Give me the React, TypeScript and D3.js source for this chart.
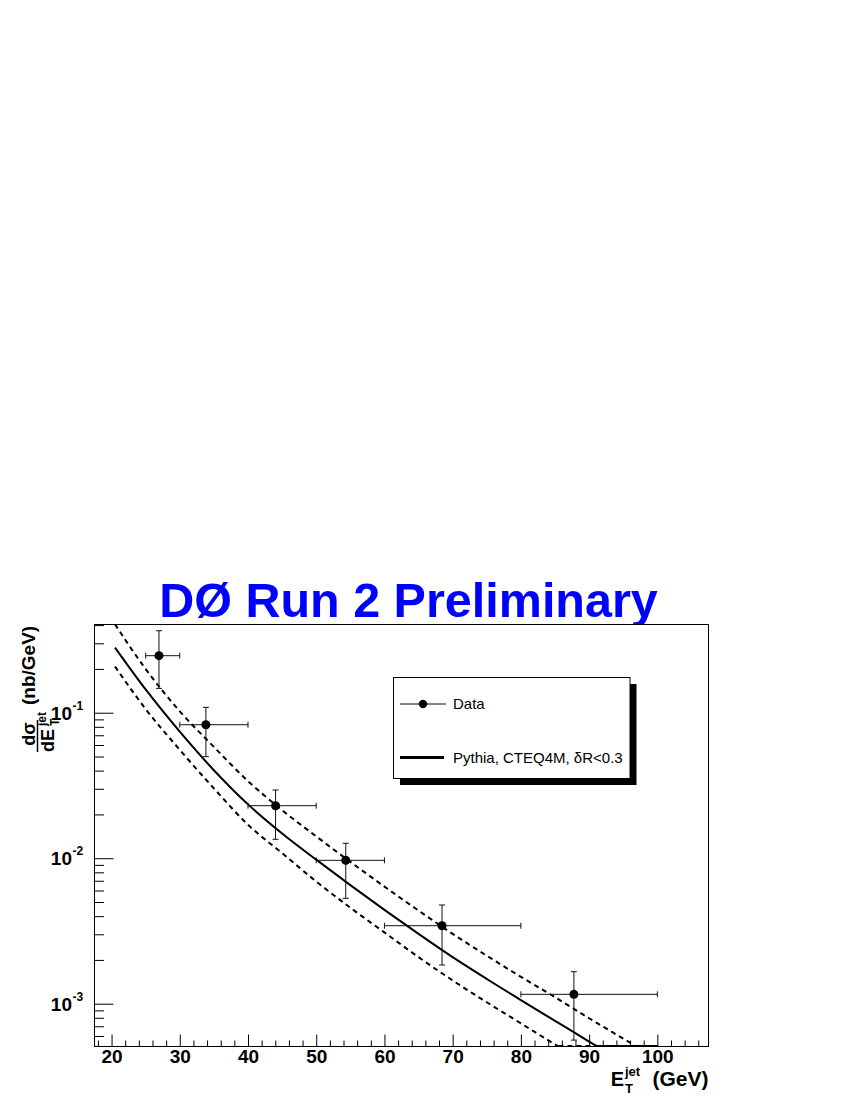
import React, { useEffect, useRef } from "react";
import * as d3 from "d3";

// measured points (E_T in GeV, dsigma/dE_T in nb/GeV)
const ptEt = [26.95, 33.83, 44.04, 54.33, 68.44, 87.77];
const ptBinLo = [25, 30, 40, 50, 60, 80];
const ptBinHi = [30, 40, 50, 60, 80, 100];
const ptXsec = [0.2466, 0.0827, 0.02296, 0.00967, 0.003436, 0.00116];
const ptXsecHi = [0.366, 0.1089, 0.02944, 0.01266, 0.00477, 0.00166];
const ptXsecLo = [0.147, 0.0499, 0.01349, 0.0053, 0.001845, 0.000562];

// Pythia prediction + dashed band
const curveEt = [20.5, 25, 30, 35, 40, 45, 50, 55, 60, 65, 70, 75, 80, 85, 90, 95, 100];
const pythia = [0.2805, 0.1445, 0.07413, 0.04027, 0.02344, 0.01479, 0.009772, 0.006531, 0.004416,
  0.00302, 0.002089, 0.001479, 0.001059, 0.0007629, 0.0005495, 0.0003981, 0.0002884];
const pythiaUp = [0.4055, 0.1995, 0.1023, 0.05821, 0.03388, 0.02138, 0.01413, 0.009441, 0.006383,
  0.004365, 0.00302, 0.002138, 0.001531, 0.001109, 0.0007943, 0.0005754, 0.0004169];
const pythiaDown = [0.208, 0.1059, 0.05559, 0.0302, 0.01698, 0.01084, 0.006918, 0.004571, 0.00309,
  0.002089, 0.001445, 0.001023, 0.0007328, 0.0005248, 0.0003802, 0.0002754, 0.0001995];

const xTickLabels = [20, 30, 40, 50, 60, 70, 80, 90, 100];
const yTickLabels = [0.1, 0.01, 0.001];

const FONT = "'Liberation Sans', Arial, Helvetica, sans-serif";

const App = () => {
  const ref = useRef(null);
  const frame = { left: 94.5, top: 624.5, right: 708.5, bottom: 1046.5 };
  const yMin = 5.08e-4, yMax = 0.404;

  useEffect(() => {
    const svg = d3.select(ref.current);
    svg.selectAll("*").remove();

    const x = d3.scaleLinear().domain([17.5, 107.5]).range([frame.left, frame.right]);
    const y = d3.scaleLog().domain([yMin, yMax]).range([frame.bottom, frame.top]);
    const yc = (v) => y(Math.min(yMax, Math.max(yMin, v)));

    svg.append("defs").append("clipPath").attr("id", "frameClip")
      .append("rect")
      .attr("x", frame.left).attr("y", frame.top)
      .attr("width", frame.right - frame.left).attr("height", frame.bottom - frame.top);

    // title
    svg.append("text")
      .attr("x", 408.5).attr("y", 617)
      .attr("text-anchor", "middle")
      .attr("font-family", FONT).attr("font-weight", "bold").attr("font-size", 48.5)
      .attr("fill", "#0000ff")
      .text("DØ Run 2 Preliminary");

    // frame
    svg.append("rect")
      .attr("x", frame.left).attr("y", frame.top)
      .attr("width", frame.right - frame.left).attr("height", frame.bottom - frame.top)
      .attr("fill", "white").attr("stroke", "black").attr("stroke-width", 1);

    // x ticks (inside the frame)
    const xMajor = d3.axisBottom(x).tickValues(xTickLabels).tickSize(-12).tickPadding(3);
    const xMinor = d3.axisBottom(x).tickValues(x.ticks(45).filter(t => t % 10 !== 0)).tickSize(-6).tickFormat(() => "");
    const gxm = svg.append("g").attr("transform", `translate(0,${frame.bottom})`).call(xMinor);
    const gx = svg.append("g").attr("transform", `translate(0,${frame.bottom})`).call(xMajor);
    [gx, gxm].forEach(g => {
      g.select(".domain").remove();
      g.selectAll("line").attr("stroke", "black");
    });
    gx.selectAll("text")
      .attr("font-family", FONT).attr("font-weight", "bold").attr("font-size", 19).attr("fill", "black");

    // y ticks
    const allY = y.ticks();
    const yMajor = d3.axisLeft(y).tickValues(yTickLabels).tickSize(-19).tickFormat(() => "");
    const yMinor = d3.axisLeft(y).tickValues(allY.filter(t => !yTickLabels.some(m => Math.abs(m - t) / m < 1e-6))).tickSize(-9.5).tickFormat(() => "");
    [yMajor, yMinor].forEach(ax => {
      const g = svg.append("g").attr("transform", `translate(${frame.left},0)`).call(ax);
      g.select(".domain").remove();
      g.selectAll("line").attr("stroke", "black");
    });

    // y tick labels 10^n
    yTickLabels.forEach(v => {
      const py = y(v);
      svg.append("text")
        .attr("x", 72).attr("y", py + 7)
        .attr("text-anchor", "end")
        .attr("font-family", FONT).attr("font-weight", "bold").attr("font-size", 19)
        .text("10");
      svg.append("text")
        .attr("x", 72.5).attr("y", py - 3)
        .attr("font-family", FONT).attr("font-weight", "bold").attr("font-size", 12)
        .text(String(Math.round(Math.log10(v))));
    });

    // curves: clipped to the frame, then run along the bottom edge like ROOT does
    const plot = svg.append("g");
    const clipped = plot.append("g").attr("clip-path", "url(#frameClip)");
    const line = d3.line()
      .x((d) => x(d[0]))
      .y((d) => y(d[1]))
      .curve(d3.curveMonotoneX);
    const drawCurve = (vals, dash, w) => {
      clipped.append("path")
        .datum(curveEt.map((e, i) => [e, vals[i]]))
        .attr("d", line)
        .attr("fill", "none").attr("stroke", "black")
        .attr("stroke-width", w)
        .attr("stroke-dasharray", dash);
      const i = vals.findIndex(v => v < yMin);
      if (i > 0) {
        const t = (Math.log(vals[i - 1]) - Math.log(yMin)) / (Math.log(vals[i - 1]) - Math.log(vals[i]));
        const xc = curveEt[i - 1] + t * (curveEt[i] - curveEt[i - 1]);
        plot.append("line")
          .attr("x1", x(xc)).attr("x2", x(curveEt[curveEt.length - 1]))
          .attr("y1", frame.bottom - 0.5).attr("y2", frame.bottom - 0.5)
          .attr("stroke", "black").attr("stroke-width", w)
          .attr("stroke-dasharray", dash);
      }
    };
    drawCurve(pythiaUp, "5,4", 2);
    drawCurve(pythiaDown, "5,4", 2);
    drawCurve(pythia, null, 2);

    // data error bars
    const cap = 3;
    ptEt.forEach((e, i) => {
      const cx = x(e), cy = y(ptXsec[i]);
      const x0 = x(ptBinLo[i]), x1 = x(ptBinHi[i]);
      const y0 = yc(ptXsecLo[i]), y1 = yc(ptXsecHi[i]);
      const g = plot.append("g").attr("stroke", "#111").attr("stroke-width", 1);
      g.append("line").attr("x1", x0).attr("x2", x1).attr("y1", cy).attr("y2", cy);
      g.append("line").attr("x1", cx).attr("x2", cx).attr("y1", y0).attr("y2", y1);
      g.append("line").attr("x1", x0).attr("x2", x0).attr("y1", cy - cap).attr("y2", cy + cap);
      g.append("line").attr("x1", x1).attr("x2", x1).attr("y1", cy - cap).attr("y2", cy + cap);
      g.append("line").attr("x1", cx - cap).attr("x2", cx + cap).attr("y1", y0).attr("y2", y0);
      g.append("line").attr("x1", cx - cap).attr("x2", cx + cap).attr("y1", y1).attr("y2", y1);
    });
    plot.selectAll(".pt")
      .data(ptEt)
      .enter().append("circle")
      .attr("class", "pt")
      .attr("cx", (d) => x(d))
      .attr("cy", (d, i) => y(ptXsec[i]))
      .attr("r", 4.5)
      .attr("fill", "black");

    // legend
    const lg = svg.append("g");
    lg.append("rect").attr("x", 400).attr("y", 684).attr("width", 236.5).attr("height", 101).attr("fill", "black");
    lg.append("rect").attr("x", 393.5).attr("y", 677.5).attr("width", 236.5).attr("height", 101)
      .attr("fill", "white").attr("stroke", "black").attr("stroke-width", 1);
    lg.append("line").attr("x1", 400).attr("x2", 446).attr("y1", 704).attr("y2", 704).attr("stroke", "black").attr("stroke-width", 1);
    lg.append("circle").attr("cx", 423).attr("cy", 704).attr("r", 4.2).attr("fill", "black");
    lg.append("text").attr("x", 453).attr("y", 709)
      .attr("font-family", FONT).attr("font-size", 15).text("Data");
    lg.append("line").attr("x1", 400).attr("x2", 444).attr("y1", 757.5).attr("y2", 757.5).attr("stroke", "black").attr("stroke-width", 3);
    lg.append("text").attr("x", 453).attr("y", 762.5)
      .attr("font-family", FONT).attr("font-size", 15).text("Pythia, CTEQ4M, δR<0.3");

    // x axis title
    const xt = svg.append("g").attr("font-family", FONT).attr("font-weight", "bold");
    xt.append("text").attr("x", 708.5).attr("y", 1086).attr("text-anchor", "end").attr("font-size", 21).text("(GeV)");
    xt.append("text").attr("x", 624).attr("y", 1086).attr("text-anchor", "end").attr("font-size", 20).text("E");
    xt.append("text").attr("x", 625).attr("y", 1076).attr("font-size", 13).text("jet");
    xt.append("text").attr("x", 625).attr("y", 1093).attr("font-size", 13).text("T");

    // y axis title (rotated): local (lx, ly) -> screen (ly, -lx)
    const yt = svg.append("g").attr("transform", "rotate(-90)")
      .attr("font-family", FONT).attr("font-weight", "bold");
    yt.append("text").attr("x", -734).attr("y", 35).attr("text-anchor", "middle").attr("font-size", 18).text("dσ");
    yt.append("line").attr("x1", -752).attr("x2", -720).attr("y1", 37.5).attr("y2", 37.5)
      .attr("stroke", "black").attr("stroke-width", 1.5);
    yt.append("text").attr("x", -752).attr("y", 54).attr("font-size", 18).text("dE");
    yt.append("text").attr("x", -726).attr("y", 46).attr("font-size", 12).text("jet");
    yt.append("text").attr("x", -726).attr("y", 59).attr("font-size", 12).text("T");
    yt.append("text").attr("x", -705).attr("y", 35).attr("font-size", 19).text("(nb/GeV)");
  }, []);

  return (
    <svg width={850} height={1100} style={{ position: "absolute", left: 0, top: 0, background: "white" }}>
      <g ref={ref} />
    </svg>
  );
};

export default App;
